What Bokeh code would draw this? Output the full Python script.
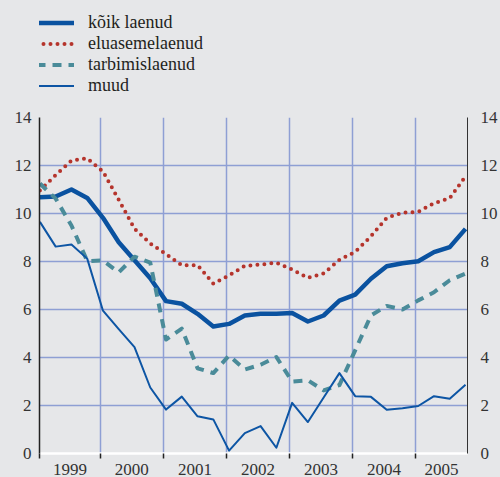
from bokeh.plotting import figure
from bokeh.layouts import column
from bokeh.models import (Range1d, FixedTicker, LinearAxis, Legend, LegendItem,
                          ColumnDataSource)
from bokeh.embed import file_html
from bokeh.resources import INLINE

# ---- data (quarterly, 1999Q1 .. 2005Q4), percent ----
years = [1999, 2000, 2001, 2002, 2003, 2004, 2005]
quarters = [(y, q) for y in years for q in (1, 2, 3, 4)]

koik = [10.68, 10.71, 11.0, 10.65, 9.82, 8.8, 8.05, 7.3, 6.35, 6.24, 5.82, 5.29,
        5.40, 5.75, 5.82, 5.82, 5.85, 5.5, 5.75, 6.37, 6.62, 7.28, 7.8, 7.93,
        8.01, 8.39, 8.6, 9.36]
elu = [10.96, 11.6, 12.2, 12.3, 11.75, 10.57, 9.37, 8.75, 8.31, 7.84, 7.85, 7.08,
       7.42, 7.82, 7.87, 7.95, 7.67, 7.32, 7.5, 8.07, 8.4, 9.05, 9.82, 10.03,
       10.07, 10.43, 10.64, 11.55]
tarb = [11.25, 10.62, 9.5, 8.02, 8.04, 7.55, 8.2, 7.95, 4.75, 5.2, 3.55, 3.35,
        4.08, 3.5, 3.7, 4.02, 3.0, 3.05, 2.63, 2.85, 4.3, 5.75, 6.15, 6.0,
        6.38, 6.72, 7.22, 7.5]
muud = [9.65, 8.62, 8.71, 8.12, 5.95, 5.18, 4.43, 2.75, 1.83, 2.37, 1.55, 1.42,
        0.12, 0.85, 1.14, 0.24, 2.11, 1.31, 2.33, 3.35, 2.39, 2.36, 1.82, 1.89,
        1.98, 2.39, 2.28, 2.86]

labels = ["kõik laenud", "eluasemelaenud", "tarbimislaenud", "muud"]
y_ticks = [0, 2, 4, 6, 8, 10, 12, 14]

# x position of each quarter: first month of the quarter (mid-month)
x = [y + (3 * (q - 1) + 0.5) / 12 for (y, q) in quarters]

X0, X1 = 1999.035, 2005.823
BG = "#e6e7e9"
FONT = "Liberation Serif"
LEG_H = 100
W, H = 500, 477

styles = [
    dict(line_color="#0a52a0", line_width=4.5, line_join="round"),
    dict(line_color="#b5342c", line_width=4, line_dash="0 7", line_cap="round",
         line_join="round"),
    dict(line_color="#4a8b99", line_width=4, line_dash="9 7", line_join="round"),
    dict(line_color="#0d55a4", line_width=2, line_join="round"),
]
cols = ["koik", "elu", "tarb", "muud"]

src = ColumnDataSource(dict(x=x, koik=koik, elu=elu, tarb=tarb, muud=muud))

# ---------- legend strip (its lines lie outside its own 0..1 ranges) ----------
lg = figure(width=W, height=LEG_H, output_backend="svg", toolbar_location=None,
            x_range=Range1d(0, 1), y_range=Range1d(0, 1),
            min_border_left=0, min_border_right=0, min_border_top=0,
            min_border_bottom=0, x_axis_location=None, y_axis_location=None)
lg.grid.visible = False
lg.background_fill_color = BG
lg.border_fill_color = BG
lg.outline_line_color = None
lrs = [lg.line("x", c, source=src, **s) for c, s in zip(cols, styles)]
legend = Legend(items=[LegendItem(label=l, renderers=[r])
                       for l, r in zip(labels, lrs)],
                location=(-3, 4))
legend.background_fill_alpha = 0
legend.border_line_color = None
legend.padding = 0
legend.margin = 0
legend.spacing = 0
legend.glyph_width = 38
legend.glyph_height = 21
legend.label_height = 21
legend.label_standoff = 14
legend.label_text_font = FONT
legend.label_text_font_size = "18px"
legend.label_text_color = "#231f20"
lg.add_layout(legend, "center")

# ---------- main chart ----------
p = figure(width=W, height=H - LEG_H, output_backend="svg",
           toolbar_location=None,
           x_range=Range1d(X0, X1), y_range=Range1d(0, 14),
           min_border_left=39, min_border_right=32, min_border_top=117 - LEG_H,
           min_border_bottom=24, y_axis_location=None, x_axis_location=None)
p.background_fill_color = BG
p.border_fill_color = BG
p.outline_line_color = None

p.xgrid.ticker = FixedTicker(ticks=years[1:])
p.ygrid.ticker = FixedTicker(ticks=y_ticks)
for g in (p.xgrid, p.ygrid):
    g.grid_line_color = "#8e9fd4"
    g.grid_line_width = 1.5

mids = [(max(y, X0) + min(y + 1, X1)) / 2 for y in years]
xb = LinearAxis(ticker=FixedTicker(ticks=mids, minor_ticks=[X0] + years[1:]),
                major_label_overrides={m: str(y) for m, y in zip(mids, years)})
xb.axis_line_color = "white"
xb.axis_line_width = 2.5
xb.major_tick_line_color = None
xb.major_tick_out = 0
xb.major_tick_in = 0
xb.minor_tick_line_color = "#222222"
xb.minor_tick_line_width = 1.5
xb.minor_tick_out = 5
xb.minor_tick_in = 0
xb.major_label_standoff = 5
p.add_layout(xb, "below")

yl = LinearAxis(ticker=FixedTicker(ticks=y_ticks))
yl.axis_line_color = "#222222"
yl.axis_line_width = 1.5
yl.major_label_standoff = 8
p.add_layout(yl, "left")

yr = LinearAxis(ticker=FixedTicker(ticks=y_ticks))
yr.axis_line_color = "#333333"
yr.axis_line_width = 1
yr.major_label_standoff = 13
p.add_layout(yr, "right")

for ax in (xb, yl, yr):
    ax.major_label_text_font = FONT
    ax.major_label_text_font_size = "17px"
    ax.major_label_text_color = "#333333"
for ax in (yl, yr):
    ax.major_tick_line_color = None
    ax.minor_tick_line_color = None
    ax.major_tick_out = 0
    ax.major_tick_in = 0

for c, s in zip(cols, styles):
    p.line("x", c, source=src, **s)

layout = column(lg, p, spacing=0)

html = file_html(layout, INLINE)
html = html.replace("<head>", "<head><style>body{background:%s;}</style>" % BG, 1)
open("out.html", "w").write(html)
